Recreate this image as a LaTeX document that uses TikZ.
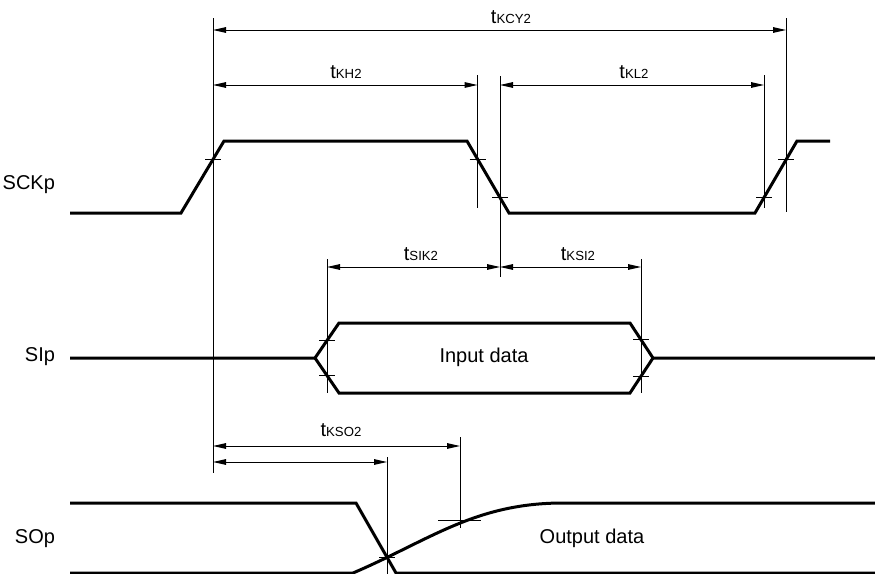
\documentclass[tikz,border=0pt]{standalone}
\usepackage{fontspec}
\setmainfont{Liberation Sans}
\usetikzlibrary{positioning,arrows.meta}
\newcommand{\tsub}[1]{t{\fontsize{6.6}{7}\selectfont #1}}

\begin{document}
\begin{tikzpicture}[x=0.5pt,y=-0.5pt,font=\fontsize{10}{12}\selectfont]
            \tikzstyle{sig}=[line width=1.5pt,line join=miter]
            \tikzstyle{guide}=[line width=0.5pt]
            \tikzstyle{dim}=[line width=0.5pt,{Triangle[length=6.5pt,width=2.8pt]}-{Triangle[length=6.5pt,width=2.8pt]}]
            \tikzstyle{tlab}=[font=\fontsize{10}{11}\selectfont,inner sep=1pt]
            \useasboundingbox (0,0) rectangle (875,574);

            % signal names
            \node[anchor=east] (sck) at (62,185) {SCKp};
            \node[anchor=east] (si) at (62,357) {SIp};
            \node[anchor=east] (so) at (62,539) {SOp};
            \node (indata) at (484,357) {Input data};
            \node (outdata) at (592,538) {Output data};

            % waveforms
            \draw[sig] (70,213) -- (181,213) -- (224,141) -- (467,141) -- (509,213) -- (755,213) -- (797,141) -- (830,141);
            \draw[sig] (70,358) -- (315,358) -- (339,323) -- (630,323) -- (653,358) -- (875,358);
            \draw[sig] (315,358) -- (339,393) -- (630,393) -- (653,358);
            \draw[sig] (70,503) -- (356,503) -- (396,573) -- (875,573);
            \draw[sig] (70,573) -- (353,573) .. controls (430,540) and (475,503) .. (563,503) -- (875,503);

            % guide lines
            \foreach \x/\ya/\yb in {213/18/473, 477.5/75/208, 500/76/277, 764/75/208, 786/18/212,
                                    327/259/393, 641/259/393, 387/457/574, 460/437/528}
                \draw[guide] (\x,\ya) -- (\x,\yb);
            \foreach \x/\y in {213/159, 477.5/159, 500/197, 764/197, 786/159,
                               327/340.5, 327/375.5, 641/339.7, 641/376.3, 387/557}
                \draw[guide] (\x-8,\y) -- (\x+8,\y);
            \draw[guide] (438,520) -- (481,520);

            % timing arrows
            \draw[dim] (213,30) -- (786,30);
            \draw[dim] (213,85) -- (477.5,85);
            \draw[dim] (500,85) -- (764,85);
            \draw[dim] (327,267) -- (500,267);
            \draw[dim] (500,267) -- (641,267);
            \draw[dim] (213,446) -- (460,446);
            \draw[dim] (213,462) -- (387,462);

            \node[tlab] (kcy) at (511,17) {\tsub{KCY2}};
            \node[tlab] (kh) at (346,72) {\tsub{KH2}};
            \node[tlab] (kl) at (634,72) {\tsub{KL2}};
            \node[tlab] (sik) at (421,254) {\tsub{SIK2}};
            \node[tlab] (ksi) at (578,254) {\tsub{KSI2}};
            \node[tlab] (kso) at (341,430) {\tsub{KSO2}};
        \end{tikzpicture}
\end{document}
